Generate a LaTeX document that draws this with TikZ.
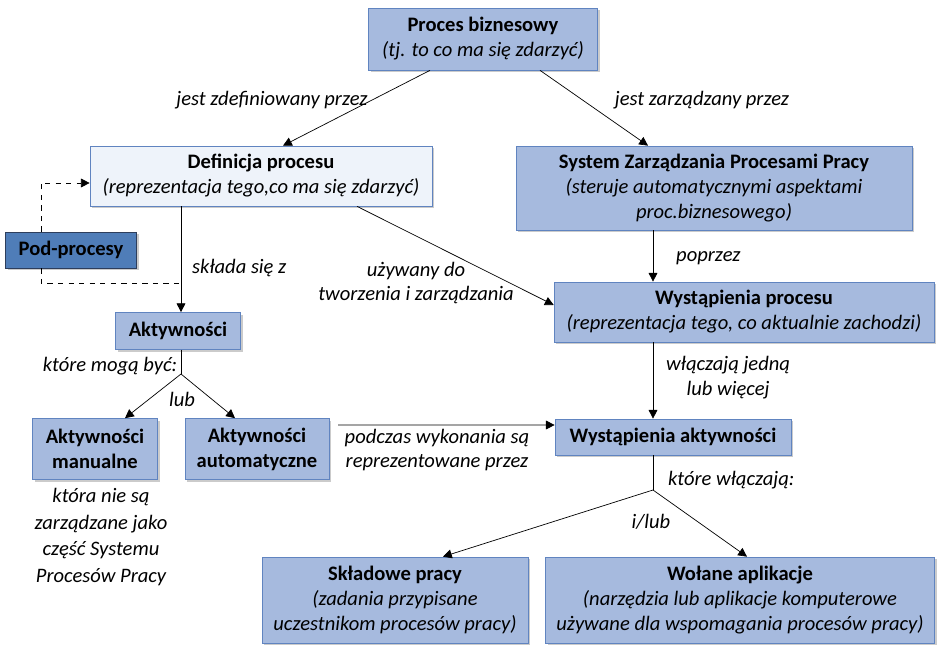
\documentclass[tikz,border=0pt]{standalone}
\usepackage{fontspec}
\setmainfont{Carlito}
\usetikzlibrary{arrows.meta,positioning,shadows}
\definecolor{boxfill}{RGB}{166,186,222}
\definecolor{boxline}{RGB}{96,132,192}
\definecolor{lightfill}{RGB}{238,243,250}
\definecolor{darkfill}{RGB}{79,125,184}
\definecolor{darkline}{RGB}{45,62,92}
\tikzset{
	box/.style={draw=boxline,fill=boxfill,rectangle,align=center,inner sep=2pt,
		font=\fontsize{11.7}{14.2}\selectfont,
		drop shadow={shadow xshift=1.2pt,shadow yshift=-1.2pt,fill=black!45,opacity=0.45}},
	lightbox/.style={box,fill=lightfill},
	darkbox/.style={box,fill=darkfill,draw=darkline},
	lbl/.style={align=center,font=\fontsize{11.7}{14.2}\selectfont\itshape},
	every new ->/.style={shorten >=0pt},
	>={Triangle[length=5pt,width=5pt]}
}

\begin{document}
\begin{tikzpicture}[x=0.02cm,y=-0.02cm]
			\useasboundingbox (0,0) rectangle (939,645);
			\node[box,minimum width=4.58cm,minimum height=1.24cm] (bp) at (483,39) {\textbf{Proces biznesowy}\\\textit{(tj. to co ma się zdarzyć)}};
			\node[lightbox,minimum width=6.84cm,minimum height=1.2cm] (def) at (261,176) {\textbf{Definicja procesu}\\\textit{(reprezentacja tego,co ma się zdarzyć)}};
			\node[box,minimum width=7.92cm,minimum height=1.68cm] (sys) at (714,188) {\textbf{System Zarządzania Procesami Pracy}\\\textit{(steruje automatycznymi aspektami}\\\textit{proc.biznesowego)}};
			\node[darkbox,minimum width=2.62cm,minimum height=0.72cm] (pod) at (71,250) {\textbf{Pod-procesy}};
			\node[box,minimum width=2.5cm,minimum height=0.74cm] (akt) at (178,331) {\textbf{Aktywności}};
			\node[box,minimum width=7.6cm,minimum height=1.2cm] (wp) at (744,312) {\textbf{Wystąpienia procesu}\\\textit{(reprezentacja tego, co aktualnie zachodzi)}};
			\node[box,minimum width=2.5cm,minimum height=1.22cm] (man) at (95,449) {\textbf{Aktywności}\\\textbf{manualne}};
			\node[box,minimum width=2.88cm,minimum height=1.22cm] (auto) at (257,449) {\textbf{Aktywności}\\\textbf{automatyczne}};
			\node[box,minimum width=4.72cm,minimum height=0.72cm] (wa) at (673,437) {\textbf{Wystąpienia aktywności}};
			\node[box,minimum width=5.32cm,minimum height=1.72cm] (sp) at (395,600) {\textbf{Składowe pracy}\\\textit{(zadania przypisane}\\\textit{uczestnikom procesów pracy)}};
			\node[box,minimum width=7.78cm,minimum height=1.72cm] (app) at (740,600) {\textbf{Wołane aplikacje}\\\textit{(narzędzia lub aplikacje komputerowe}\\\textit{używane dla wspomagania procesów pracy)}};
			
			\node[coordinate] (col) at (653,0) {};
			\node[coordinate] (aksplit) at (181,374) {};
			\node[coordinate] (wasplit) at (653,490) {};
			\node[coordinate] (podjoin) at (181,283) {};
			
			\draw[->] ([xshift=-1.06cm]bp.south) -- ([xshift=0.44cm]def.north);
			\draw[->] ([xshift=1.14cm]bp.south) -- ([xshift=-1.32cm]sys.north);
			\draw[->] (def.south -| podjoin) -- (akt.north -| podjoin);
			\draw[->] ([xshift=1.92cm]def.south) -- ([yshift=0.14cm]wp.west);
			\draw[->] (sys.south -| col) -- (wp.north -| col);
			\draw[->] (wp.south -| col) -- (wa.north -| col);
			\draw (akt.south -| aksplit) -- (aksplit);
			\draw[->] (aksplit) -- ([xshift=0.6cm]man.north);
			\draw[->] (aksplit) -- ([xshift=-0.44cm]auto.north);
			\draw[->] ([xshift=5pt,yshift=0.48cm]auto.east) -- ([yshift=0.24cm]wa.west);
			\draw (wa.south -| wasplit) -- (wasplit);
			\draw[->] (wasplit) -- ([xshift=0.96cm]sp.north);
			\draw[->] (wasplit) -- ([xshift=0.14cm]app.north);
			\draw[->,dashed] ([xshift=-0.6cm]pod.north) |- ([yshift=-0.14cm]def.west);
			\draw[dashed] ([xshift=-0.6cm]pod.south) |- (podjoin);
			
			\node[lbl] (l1) at (272,100) {jest zdefiniowany przez};
			\node[lbl] (l2) at (702,100) {jest zarządzany przez};
			\node[lbl,anchor=west] (l3) at (186,268) {składa się z};
			\node[lbl] (l4) at (416,283) {używany do\\tworzenia i zarządzania};
			\node[lbl,anchor=west] (l5) at (670,258) {poprzez};
			\node[lbl,anchor=west] (l6) at (660,378) {włączają jedną\\lub więcej};
			\node[lbl] (l7) at (110,366) {które mogą być:};
			\node[lbl] (l8) at (182,399) {lub};
			\node[lbl] (l9) at (437,450) {podczas wykonania są\\reprezentowane przez};
			\node[lbl,anchor=west] (l10) at (662,480) {które włączają:};
			\node[lbl] (l11) at (651,522) {i/lub};
			\node[lbl,font=\fontsize{11.7}{15}\selectfont\itshape] (note) at (101,537) {która nie są\\zarządzane jako\\część Systemu\\Procesów Pracy};
		\end{tikzpicture}
\end{document}
